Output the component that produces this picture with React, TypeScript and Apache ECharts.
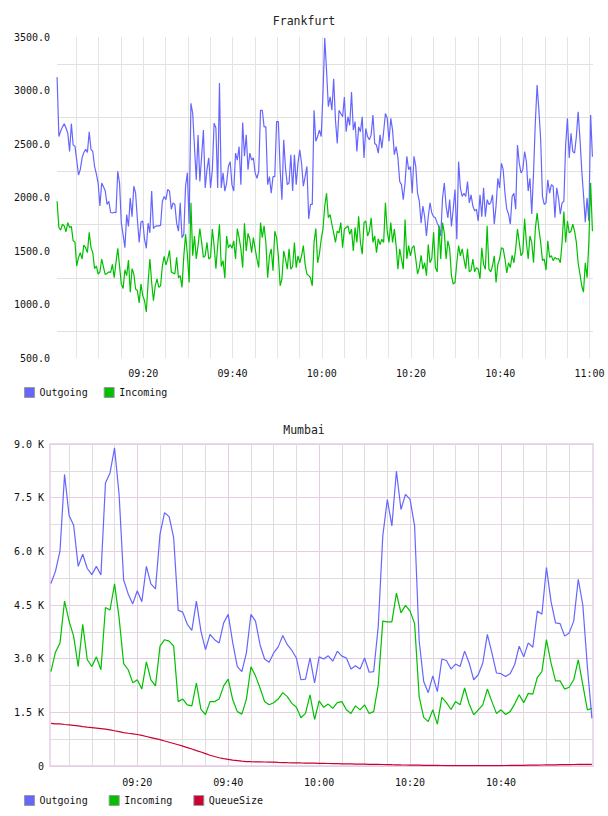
import React, { useEffect, useRef } from "react";
import * as echarts from "echarts";

// Time values are minutes after 09:00.
const frankfurtStart = 0.67; // 09:00:40
const frankfurtStep = 0.4; // one sample every 24 s

const frankfurtOutgoing = [
  3125, 2570, 2620, 2660, 2690, 2650, 2600, 2430, 2690, 2490,
  2480, 2350, 2210, 2260, 2370, 2420, 2450, 2420, 2615, 2450,
  2430, 2290, 2220, 2135, 1920, 2135, 2100, 2060, 1935, 1965,
  1860, 1855, 1862, 1858, 2245, 2135, 1760, 1650, 1530, 1840,
  1730, 1995, 1820, 2105, 2040, 1795, 1580, 1770, 1780, 1610,
  1525, 1760, 1670, 2060, 1710, 1730, 1735, 1735, 1740, 1965,
  2010, 1980, 2075, 2060, 1890, 1950, 1935, 1760, 1685, 1950,
  1625, 1655, 2105, 2230, 1755,
  2880, 2785, 2470, 2165, 2585, 2150, 2385, 2630, 2090, 2260,
  2370, 2090, 2260, 2695, 2650, 2090, 3070, 2090, 2230, 2060,
  2135, 2290, 2335, 2120, 2060, 2415, 2350, 2475, 2120, 2700,
  2385, 2585, 2260, 2415, 2350, 2370, 2230, 2180, 2245, 2815,
  2815, 2660, 2660, 2120, 2195, 2040, 2195, 2195, 2710, 2710,
  2260, 1980, 2540, 2275, 2120, 2135, 2400, 2060, 2400, 2120,
  2320, 2445, 2320, 2105, 2195, 2290, 1800, 1935, 1935, 2815,
  2525, 2570, 2630, 2570, 2970,
  3490, 3190, 2850, 2940, 2815, 3110, 2725, 2505, 2815, 2785,
  2755, 2940, 2615, 2755, 2675, 2985, 2630, 2710, 2430, 2660,
  2615, 2755, 2370, 2645, 2570, 2540, 2585, 2770, 2505, 2490,
  2415, 2585, 2460, 2615, 2785, 2740, 2525, 2740, 2630, 2400,
  2475, 2370, 2150, 2120, 1980, 2135, 2385, 2260, 2290, 2040,
  2385, 2290, 2040, 1965, 1760, 1920, 1820, 1640, 1820, 1950,
  1855, 1820, 1810, 1760, 1730, 1640, 1995, 2135, 1920, 1810,
  1980, 1730, 1890, 2075, 1610,
  2335, 2090, 2010, 2040, 2010, 2150, 1950, 2025, 1920, 1875,
  1890, 1780, 2025, 1820, 2090, 1820, 1980, 1935, 1950, 2025,
  1750, 1920, 2180, 2090, 2320, 2260, 2040, 1890, 1845, 1750,
  2010, 2040, 1890, 2490, 2320, 2230, 2260, 2430, 2335, 2060,
  2180, 1845, 2230, 2700, 3050, 2815, 2540, 2010, 1935, 1950,
  2165, 2040, 2120, 2105, 1810, 2090, 1995, 1845, 1950, 1965,
  2490, 2740, 2370, 2600, 2430, 2415, 2570, 2800, 2555, 2260,
  2025, 1770, 1995, 1780, 2770, 2380,
];

const frankfurtIncoming = [
  1965, 1720, 1695, 1750, 1735, 1680, 1765, 1720, 1730, 1595,
  1585, 1360, 1440, 1485, 1425, 1555, 1530, 1485, 1675, 1530,
  1485, 1335, 1360, 1285, 1305, 1425, 1350, 1280, 1290, 1305,
  1300, 1375, 1250, 1390, 1525, 1360, 1190, 1150, 1325, 1270,
  1415, 1115, 1335, 1285, 1145, 1130, 1015, 1190, 1085, 1035,
  930, 1205, 1425, 1205, 1035, 1175, 1240, 1160, 1175, 1360,
  1450, 1370, 1425, 1505, 1305, 1295, 1285, 1440, 1250, 1270,
  1160, 1450, 1655, 1470, 1205,
  1950, 1455, 1640, 1425, 1550, 1710, 1580, 1440, 1455, 1580,
  1425, 1440, 1705, 1550, 1335, 1550, 1750, 1355, 1410, 1245,
  1640, 1530, 1560, 1525, 1595, 1425, 1710, 1625, 1520, 1345,
  1760, 1500, 1665, 1610, 1485, 1625, 1520, 1425, 1345, 1765,
  1625, 1735, 1580, 1250, 1455, 1520, 1315, 1685, 1625, 1455,
  1175, 1240, 1500, 1425, 1330, 1520, 1330, 1355, 1580, 1345,
  1455, 1390, 1455, 1550, 1375, 1285, 1270, 1250, 1175, 1580,
  1710, 1390, 1470, 1610, 1705,
  1920, 2040, 1810, 1840, 1750, 1670, 1580, 1685, 1670, 1765,
  1530, 1705, 1720, 1735, 1655, 1705, 1500, 1720, 1580, 1825,
  1580, 1470, 1765, 1780, 1640, 1685, 1810, 1580, 1640, 1485,
  1615, 1560, 1610, 1580, 1950, 1685, 1580, 1765, 1580, 1705,
  1550, 1330, 1520, 1425, 1330, 1795, 1425, 1550, 1455, 1530,
  1550, 1425, 1285, 1345, 1460, 1330, 1390, 1270, 1560, 1390,
  1430, 1675, 1345, 1305, 1735, 1425, 1765, 1670, 1425, 1595,
  1520, 1270, 1190, 1205, 1390,
  1550, 1455, 1520, 1425, 1335, 1520, 1305, 1320, 1425, 1305,
  1345, 1330, 1240, 1530, 1375, 1330, 1735, 1330, 1305, 1360,
  1455, 1205, 1375, 1425, 1530, 1520, 1425, 1295, 1390, 1345,
  1460, 1390, 1520, 1705, 1580, 1455, 1485, 1800, 1580, 1425,
  1640, 1580, 1390, 1705, 1855, 1705, 1580, 1410, 1425, 1320,
  1595, 1440, 1455, 1410, 1440, 1425, 1430, 1390, 1580, 1870,
  1580, 1780, 1670, 1685, 1750, 1685, 1580, 1390, 1285, 1175,
  1115, 1390, 1250, 1580, 2135, 1685,
];

const mumbaiStart = 1; // 09:01
const mumbaiStep = 1; // one sample per minute

const mumbaiOutgoing = [
  5100, 5440, 6010, 8150, 7000, 6730, 5580, 5920, 5520, 5350,
  5580, 5340, 7910, 8190, 8890, 7590, 5200, 4810, 4530, 4900,
  4590, 5580, 5090, 4950, 6480, 7080, 6970, 6380, 4350, 4300,
  3960, 3790, 4610, 3770, 3250, 3680, 3530, 3440, 4000, 4240,
  3440, 2780, 2640, 3160, 4240, 4050, 3390, 2990, 2900, 3160,
  3330, 3650, 3390, 3230, 3020, 2410, 2430, 3020, 2320, 3050,
  2990, 3080, 2930, 3210, 3070, 3020, 2710, 2800, 2710, 3020,
  2620, 2640, 3900, 6430, 7450, 6710, 8240, 7170, 7590, 7450,
  6710, 3500, 2360, 2050, 2520, 2080, 2990, 2950, 2710, 2850,
  2780, 3210, 2880, 2410, 2550, 2880, 3680, 3160, 2600, 2580,
  2500, 2580, 2830, 3350, 3050, 3440, 3320, 4330, 4240, 5550,
  4600, 4000, 3980, 3630, 3720, 4050, 5220, 4500, 2780, 1330,
];

const mumbaiIncoming = [
  2640, 3180, 3440, 4610, 4050, 3630, 2780, 3960, 2970, 2780,
  3050, 2690, 4430, 4360, 5090, 4140, 2860, 2690, 2330, 2410,
  2150, 2910, 2410, 2240, 3350, 3530, 3490, 3350, 1800, 1870,
  1710, 1680, 2320, 1580, 1440, 1800, 1800, 1870, 2240, 2430,
  1850, 1520, 1450, 1870, 2770, 2520, 2180, 1800, 1710, 1770,
  1870, 2050, 1940, 1750, 1640, 1350, 1470, 1990, 1300, 1820,
  1640, 1730, 1610, 1770, 1800, 1570, 1470, 1680, 1570, 1710,
  1470, 1520, 2270, 4050, 4030, 4030, 4830, 4280, 4490, 4330,
  3980, 1940, 1360, 1240, 1570, 1170, 1920, 1770, 1580, 1800,
  1710, 2180, 1730, 1430, 1570, 1710, 2150, 1800, 1470, 1570,
  1440, 1520, 1730, 1990, 1770, 2030, 2010, 2480, 2640, 3530,
  2880, 2380, 2380, 2150, 2200, 2410, 2970, 2270, 1570, 1610,
];

const mumbaiQueueSize = [
  1190, 1180, 1175, 1160, 1150, 1135, 1120, 1100, 1085, 1075,
  1060, 1045, 1030, 1010, 985, 960, 935, 915, 900, 880,
  855, 825, 795, 765, 735, 700, 665, 630, 595, 555,
  515, 475, 430, 390, 345, 300, 265, 230, 205, 185,
  165, 150, 135, 125, 120, 118, 116, 112, 110, 106,
  100, 97, 92, 90, 88, 85, 83, 80, 78, 76,
  73, 70, 68, 66, 62, 60, 58, 55, 52, 50,
  48, 46, 44, 42, 40, 36, 33, 30, 28, 26,
  24, 22, 20, 18, 16, 15, 14, 13, 12, 12,
  11, 11, 10, 10, 10, 10, 11, 12, 12, 13,
  14, 15, 16, 18, 20, 22, 24, 26, 28, 30,
  32, 34, 36, 38, 40, 42, 44, 45, 46, 48,
];

// Axis ticks
const frankfurtValueLabels = [500, 1000, 1500, 2000, 2500, 3000, 3500];
const frankfurtGridValues = [750, 1250, 1750, 2250, 2750, 3250];
const mumbaiValueLabels = [0, 1500, 3000, 4500, 6000, 7500, 9000];
const mumbaiMidValues = [750, 2250, 3750, 5250, 6750, 8250];
const frankfurtTimeLabels = [20, 40, 60, 80, 100, 120];
const mumbaiTimeLabels = [20, 40, 60, 80, 100];
const fiveMinuteMarks = [
  5, 10, 15, 20, 25, 30, 35, 40, 45, 50, 55, 60,
  65, 70, 75, 80, 85, 90, 95, 100, 105, 110, 115, 120,
];
const mumbaiMinorMarks = [
  5, 10, 15, 25, 30, 35, 45, 50, 55, 65, 70, 75, 85, 90, 95, 105, 110, 115,
];

const FONT = '"DejaVu Sans Mono", "Liberation Mono", monospace';
const OUT_COLOR = "#6666ff";
const IN_COLOR = "#00c000";
const QUEUE_COLOR = "#cc0033";

function clockLabel(m: number): string {
  const total = Math.round(m);
  const h = 9 + Math.floor(total / 60);
  const mm = total % 60;
  return `${String(h).padStart(2, "0")}:${String(mm).padStart(2, "0")}`;
}

function kLabel(v: number): string {
  return v === 0 ? "0" : `${(v / 1000).toFixed(1)} K`;
}

function toPairs(start: number, step: number, values: number[]) {
  return values.map((v, i) => [start + i * step, v]);
}

const axisText = { fontFamily: FONT, fontSize: 10, color: "#111" };

export default function App() {
  const ref = useRef<HTMLDivElement>(null);

  useEffect(() => {
    if (!ref.current) return;
    const chart = echarts.init(ref.current, undefined, { renderer: "svg" });

    const lineSeries = (
      name: string,
      color: string,
      xi: number,
      yi: number,
      data: number[][]
    ) => ({
      name,
      type: "line",
      xAxisIndex: xi,
      yAxisIndex: yi,
      data,
      color,
      symbol: "none",
      silent: true,
      lineStyle: { width: 1.2, color },
    });

    const legendBase = {
      left: 24,
      icon: "rect",
      itemWidth: 10,
      itemHeight: 10,
      padding: 0,
      selectedMode: false,
      itemStyle: { borderColor: "#999", borderWidth: 1 },
      textStyle: { ...axisText },
    };

    chart.setOption({
      animation: false,
      textStyle: { fontFamily: FONT },
      title: [
        {
          text: "Frankfurt",
          left: "center",
          top: 15,
          padding: 0,
          textStyle: { fontFamily: FONT, fontSize: 11.5, fontWeight: "normal", color: "#222" },
        },
        {
          text: "Mumbai",
          left: "center",
          top: 424,
          padding: 0,
          textStyle: { fontFamily: FONT, fontSize: 11.5, fontWeight: "normal", color: "#222" },
        },
      ],
      legend: [
        { ...legendBase, top: 387, itemGap: 16, data: ["Outgoing", "Incoming"] },
        { ...legendBase, top: 795, itemGap: 21, data: ["Outgoing", "Incoming", "QueueSize"] },
      ],
      grid: [
        { left: 57, top: 37, width: 536, height: 321 },
        {
          left: 50,
          top: 444,
          width: 543,
          height: 322,
          show: true,
          borderColor: "#ecdaec",
          borderWidth: 2,
          backgroundColor: "transparent",
        },
      ],
      xAxis: [
        {
          gridIndex: 0,
          type: "value",
          min: 0.65,
          max: 120.8,
          axisLine: { show: false },
          axisTick: { show: false, customValues: fiveMinuteMarks },
          axisLabel: {
            customValues: frankfurtTimeLabels,
            formatter: clockLabel,
            margin: 10,
            ...axisText,
          },
          splitLine: { show: true, lineStyle: { color: "#e4e4e4", width: 1 } },
        },
        {
          gridIndex: 1,
          type: "value",
          min: 0.8,
          max: 120.24,
          axisLine: { show: false },
          axisTick: { show: false, customValues: mumbaiTimeLabels },
          axisLabel: {
            customValues: mumbaiTimeLabels,
            formatter: clockLabel,
            margin: 11,
            ...axisText,
          },
          splitLine: { show: true, lineStyle: { color: "#e6cde6", width: 1 } },
        },
        {
          gridIndex: 1,
          type: "value",
          min: 0.8,
          max: 120.24,
          axisLine: { show: false },
          axisTick: { show: false, customValues: mumbaiMinorMarks },
          axisLabel: { show: false },
          splitLine: { show: true, lineStyle: { color: "#dedede", width: 1 } },
        },
      ],
      yAxis: [
        {
          gridIndex: 0,
          type: "value",
          min: 500,
          max: 3500,
          axisLine: { show: false },
          axisTick: { show: false, customValues: frankfurtGridValues },
          axisLabel: {
            customValues: frankfurtValueLabels,
            formatter: (v: number) => v.toFixed(1),
            margin: 7,
            ...axisText,
          },
          splitLine: { show: true, lineStyle: { color: "#e0e0e0", width: 1 } },
        },
        {
          gridIndex: 1,
          type: "value",
          min: 0,
          max: 9000,
          axisLine: { show: false },
          axisTick: { show: false, customValues: mumbaiValueLabels },
          axisLabel: {
            customValues: mumbaiValueLabels,
            formatter: kLabel,
            margin: 6,
            ...axisText,
          },
          splitLine: { show: true, lineStyle: { color: "#e6cde6", width: 1 } },
        },
        {
          gridIndex: 1,
          type: "value",
          min: 0,
          max: 9000,
          axisLine: { show: false },
          axisTick: { show: false, customValues: mumbaiMidValues },
          axisLabel: { show: false },
          splitLine: { show: true, lineStyle: { color: "#dedede", width: 1 } },
        },
      ],
      series: [
        lineSeries("Outgoing", OUT_COLOR, 0, 0, toPairs(frankfurtStart, frankfurtStep, frankfurtOutgoing)),
        lineSeries("Incoming", IN_COLOR, 0, 0, toPairs(frankfurtStart, frankfurtStep, frankfurtIncoming)),
        lineSeries("Outgoing", OUT_COLOR, 1, 1, toPairs(mumbaiStart, mumbaiStep, mumbaiOutgoing)),
        lineSeries("Incoming", IN_COLOR, 1, 1, toPairs(mumbaiStart, mumbaiStep, mumbaiIncoming)),
        lineSeries("QueueSize", QUEUE_COLOR, 1, 1, toPairs(mumbaiStart, mumbaiStep, mumbaiQueueSize)),
      ],
    });

    return () => chart.dispose();
  }, []);

  return (
    <div
      ref={ref}
      style={{ position: "absolute", left: 0, top: 0, width: 608, height: 816 }}
    />
  );
}
